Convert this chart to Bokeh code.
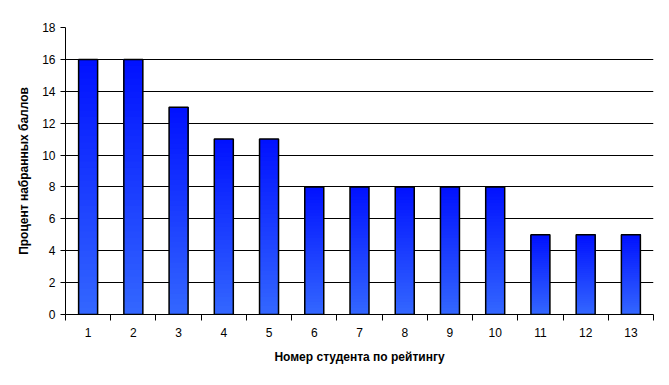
from bokeh.plotting import figure
from bokeh.models import FixedTicker, ColumnDataSource, Range1d
from bokeh.embed import file_html
from bokeh.resources import INLINE

students = list(range(1, 14))
percent = [16, 16, 13, 11, 11, 8, 8, 8, 8, 8, 5, 5, 5]
y_ticks = [0, 2, 4, 6, 8, 10, 12, 14, 16, 18]

top_rgb = (0, 16, 255)
bot_rgb = (51, 102, 255)
N = 40
BW = 0.42

p = figure(width=669, height=385, output_backend="svg", toolbar_location=None,
           x_range=Range1d(0.5, 13.5), y_range=Range1d(0, 18),
           min_border_left=65, min_border_right=16, min_border_top=27, min_border_bottom=71)
p.outline_line_color = None
p.background_fill_color = "white"
p.border_fill_color = "white"

# gradient bars: nested strips, each from a fraction of the height up to the top
xs, bottoms, tops, colors = [], [], [], []
for i in range(N):
    t = i / N
    r = round(bot_rgb[0] + (top_rgb[0] - bot_rgb[0]) * t)
    g = round(bot_rgb[1] + (top_rgb[1] - bot_rgb[1]) * t)
    b = round(bot_rgb[2] + (top_rgb[2] - bot_rgb[2]) * t)
    col = "#%02x%02x%02x" % (r, g, b)
    for s, v in zip(students, percent):
        xs.append(s)
        bottoms.append(v * t)
        tops.append(v)
        colors.append(col)
src = ColumnDataSource(dict(x=xs, bottom=bottoms, top=tops, color=colors))
p.vbar(x="x", bottom="bottom", top="top", width=BW, fill_color="color", line_color=None, source=src)
p.vbar(x=students, top=percent, bottom=0, width=BW, fill_color=None, line_color="black", line_width=1.5)

font = "Liberation Sans"
p.xaxis.ticker = FixedTicker(ticks=students, minor_ticks=[s + 0.5 for s in [0] + students])
p.xaxis.major_tick_out = 0
p.xaxis.major_tick_in = 0
p.xaxis.minor_tick_out = 6
p.xaxis.minor_tick_in = 0
p.xaxis.minor_tick_line_color = "black"
p.xaxis.major_label_standoff = 7
p.xaxis.axis_label = "Номер студента по рейтингу"
p.xaxis.axis_label_standoff = 10

p.yaxis.ticker = FixedTicker(ticks=y_ticks, minor_ticks=[])
p.yaxis.major_tick_out = 5
p.yaxis.major_tick_in = 0
p.yaxis.major_label_standoff = 5
p.yaxis.axis_label = "Процент набранных баллов"
p.yaxis.axis_label_standoff = 8

for ax in (p.xaxis, p.yaxis):
    ax.axis_line_color = "black"
    ax.axis_line_width = 1
    ax.major_tick_line_color = "black"
    ax.major_label_text_font = font
    ax.major_label_text_font_size = "12px"
    ax.major_label_text_color = "black"
    ax.axis_label_text_font = font
    ax.axis_label_text_font_size = "12px"
    ax.axis_label_text_font_style = "bold"
    ax.axis_label_text_color = "black"

p.xgrid.grid_line_color = None
p.ygrid.ticker = FixedTicker(ticks=y_ticks[1:])
p.ygrid.grid_line_color = "black"
p.ygrid.grid_line_width = 1
p.ygrid.level = "underlay"

open("out.html", "w").write(file_html(p, INLINE))
